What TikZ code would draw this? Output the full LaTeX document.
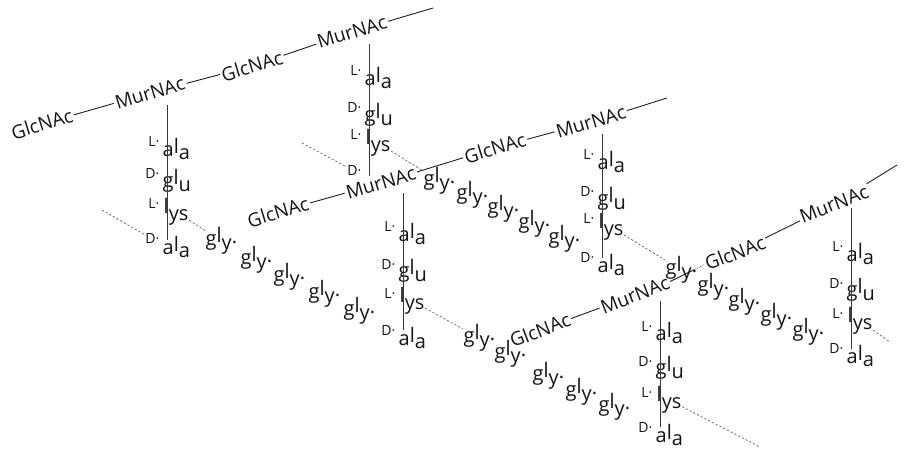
\documentclass[tikz,border=0pt]{standalone}
\usepackage{fontspec}
\setmainfont{Open Sans}
\usetikzlibrary{calc}
\newcommand{\pp}[3]{#1\raisebox{0.3ex}{#2}\raisebox{-0.35ex}{#3}}
\newcommand{\pepala}{\pp{a}{l}{a}}
\newcommand{\pepglu}{\pp{g}{l}{u}}
\newcommand{\peplys}{\pp{}{l}{ys}}
\newcommand{\pepgly}{\pp{g}{l}{y·}}
\newcommand{\stemcol}[6]{%
  \node[res] (#1ala) at ({#2-5},#3) {\pepala};
  \node[pre] (#1L1) at ({#2-7},{#3-7}) {L·};
  \node[res] (#1glu) at ({#2-5},#4) {\pepglu};
  \node[pre] (#1D2) at ({#2-7},{#4-7}) {D·};
  \node[res] (#1lys) at ({#2-4},#5) {\peplys};
  \node[pre] (#1L3) at ({#2-7},{#5-8}) {L·};
  \node[res] (#1dala) at ({#2-5},#6) {\pepala};
  \node[pre] (#1D4) at ({#2-7},{#6-8}) {D·};
}
\begin{document}
\begin{tikzpicture}[x=1pt,y=-1pt,
  sugar/.style={font=\fontsize{19}{19}\selectfont, inner sep=1.5pt, text=black!92},
  s1/.style={sugar, rotate=17},
  s3/.style={sugar, rotate=21},
  res/.style={font=\fontsize{20}{20}\selectfont, inner sep=0.5pt, anchor=west, text=black!92},
  pre/.style={font=\fontsize{14}{14}\selectfont, inner sep=0.5pt, anchor=east, text=black!92},
  strand/.style={line width=0.9pt, black!88},
  stemline/.style={line width=0.7pt, black!78},
  bridge/.style={dash pattern=on 2.2pt off 2pt, line width=0.7pt, black!62},
]
\useasboundingbox (0,0) rectangle (908,455);

% ---- glycan strands ----
\node[s1] (G1a) at (42,124) {GlcNAc};
\node[s1] (M1a) at (150,93) {MurNAc};
\node[s1] (G1b) at (252,66) {GlcNAc};
\node[s1] (M1b) at (352,32) {MurNAc};
\coordinate (E1) at (433,8);
\draw[strand] (G1a) -- (M1a);
\draw[strand] (M1a) -- (G1b);
\draw[strand] (G1b) -- (M1b);
\draw[strand] (M1b) -- (E1);

\node[s1] (G2a) at (278,212) {GlcNAc};
\node[s1] (M2a) at (381,183) {MurNAc};
\node[s1] (G2b) at (495,148) {GlcNAc};
\node[s1] (M2b) at (591,122) {MurNAc};
\coordinate (E2) at (667,98);
\draw[strand] (G2a) -- (M2a);
\draw[strand] (M2a) -- (G2b);
\draw[strand] (G2b) -- (M2b);
\draw[strand] (M2b) -- (E2);

\node[s3] (G3a) at (540,330) {GlcNAc};
\node[s3] (M3a) at (635,295) {MurNAc};
\node[s3] (G3b) at (735,253) {GlcNAc};
\node[s3] (M3b) at (834,204) {MurNAc};
\coordinate (E3) at (897,165);
\coordinate (X3) at ($(M3a.east)!0.7!(G3b.west)$);
\draw[strand] (G3a) -- (M3a);
\draw[strand] (M3a.east) -- (X3);
\draw[densely dotted, line width=0.8pt, black!70] (X3) -- (G3b.west);
\draw[strand] (G3b) -- (M3b);
\draw[strand] (M3b) -- (E3);

% ---- stem peptides ----
\stemcol{A}{167}{149}{181}{212}{247}
\stemcol{C}{403}{234}{271}{301}{338}
\stemcol{D}{602}{162}{199}{227}{265}
\stemcol{E}{660}{333}{368}{400}{435}
\stemcol{F}{851}{254}{290}{321}{356}
% column B (its D-ala is hidden behind the MurNAc of the next strand)
\node[res] (Bala) at (364,78) {\pepala};
\node[pre] (BL1) at (362,71) {L·};
\node[res] (Bglu) at (364,115) {\pepglu};
\node[pre] (BD2) at (362,108) {D·};
\node[res] (Blys) at (365,143) {\peplys};
\node[pre] (BL3) at (362,135) {L·};
\node[pre] (BD4) at (362,171) {D·};

\coordinate (At) at (167,105); \coordinate (Ab) at (167,240);
\coordinate (Bt) at (369,44);  \coordinate (Bb) at (369,176);
\coordinate (Ct) at (403,193); \coordinate (Cb) at (403,330);
\coordinate (Dt) at (602,134); \coordinate (Db) at (602,258);
\coordinate (Et) at (660,301); \coordinate (Eb) at (660,427);
\coordinate (Ft) at (851,208); \coordinate (Fb) at (851,349);
\draw[stemline] (At) -- (Ab);
\draw[stemline] (Bt) -- (Bb);
\draw[stemline] (Ct) -- (Cb);
\draw[stemline] (Dt) -- (Db);
\draw[stemline] (Et) -- (Eb);
\draw[stemline] (Ft) -- (Fb);

% ---- pentaglycine bridges ----
\node[res] (Ag1) at (205,241) {\pepgly};
\node[res] (Ag2) at (240,260) {\pepgly};
\node[res] (Ag3) at (273,277) {\pepgly};
\node[res] (Ag4) at (308,294) {\pepgly};
\node[res] (Ag5) at (343,311) {\pepgly};

\node[res] (Bg1) at (423,181) {\pepgly};
\node[res] (Bg2) at (456,195) {\pepgly};
\node[res] (Bg3) at (487,209) {\pepgly};
\node[res] (Bg4) at (518,224) {\pepgly};
\node[res] (Bg5) at (548,239) {\pepgly};

\node[res] (Cg1) at (463,338) {\pepgly};
\node[res] (Cg2) at (494,354) {\pepgly};
\node[res] (Cg3) at (532,376) {\pepgly};
\node[res] (Cg4) at (565,392) {\pepgly};
\node[res] (Cg5) at (598,407) {\pepgly};

\node[res] (Dg1) at (665,270) {\pepgly};
\node[res] (Dg2) at (697,287) {\pepgly};
\node[res] (Dg3) at (728,302) {\pepgly};
\node[res] (Dg4) at (760,317) {\pepgly};
\node[res] (Dg5) at (792,332) {\pepgly};

\coordinate (Ain) at (102,210);
\coordinate (Bin) at (302,143);
\coordinate (Eout) at (760,447);
\coordinate (Fout) at (890,342);
\draw[bridge] (Ain) -- (AD4);
\draw[bridge] (Bin) -- (BD4);
\draw[bridge] (Alys) -- (Ag1);
\draw[bridge] (Blys) -- (Bg1);
\draw[bridge] (Clys) -- (Cg1);
\draw[bridge] (Dlys) -- (Dg1);
\draw[bridge] (Elys) -- (Eout);
\draw[bridge] (Flys) -- (Fout);
\end{tikzpicture}
\end{document}
